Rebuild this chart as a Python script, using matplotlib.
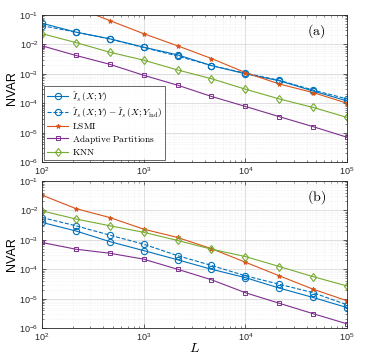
import numpy as np
import matplotlib
matplotlib.use("Agg")
import matplotlib.pyplot as plt
from matplotlib.ticker import LogLocator, NullFormatter

plt.rcParams['mathtext.fontset'] = 'cm'
plt.rcParams['font.family'] = ['Liberation Sans', 'DejaVu Sans']

L = [100, 215, 464, 1000, 2154, 4642, 10000, 21544, 46416, 100000]

# Panel (a)
a_Is = [0.052, 0.026, 0.0154, 0.0080, 0.0044, 0.0019, 0.00100, 0.00058, 0.00026, 0.00012]
a_Isdiff = [0.043, 0.026, 0.0152, 0.0078, 0.0040, 0.0019, 0.00105, 0.00060, 0.00028, 0.00014]
a_lsmi = [0.5, 0.18, 0.064, 0.023, 0.0089, 0.0033, 0.0011, 0.00045, 0.00023, 0.0001]
a_ap = [0.0089, 0.0042, 0.0021, 0.00089, 0.00041, 0.00017, 7.8e-5, 3.5e-5, 1.6e-5, 7e-6]
a_knn = [0.023, 0.0115, 0.0054, 0.0029, 0.00135, 0.00068, 0.0003, 0.00014, 7.2e-5, 3.3e-5]

# Panel (b)
b_Is = [0.0039, 0.0020, 0.00087, 0.00043, 0.00021, 1.0e-4, 5.2e-5, 2.3e-5, 1.1e-5, 5e-6]
b_Isdiff = [0.0057, 0.0030, 0.00144, 0.00071, 0.00029, 0.000135, 6e-5, 3.1e-5, 1.6e-5, 6.2e-6]
b_lsmi = [0.033, 0.0115, 0.0057, 0.0023, 0.0012, 0.0005, 0.000174, 6e-5, 2.1e-5, 8.5e-6]
b_ap = [0.00081, 0.00048, 0.00035, 0.00022, 1.0e-4, 4.4e-5, 1.6e-5, 7e-6, 3.1e-6, 1.4e-6]
b_knn = [0.0096, 0.0051, 0.0030, 0.0018, 0.00095, 0.00048, 0.00027, 0.000124, 5.6e-5, 2.7e-5]

labels = [r'$\hat{I}_s\,(X;Y)$',
          r'$\hat{I}_s\,(X;Y) - \hat{I}_s\,(X;Y_{\mathrm{ind}})$',
          r'$\mathrm{LSMI}$',
          r'$\mathrm{Adaptive\ Partitions}$',
          r'$\mathrm{KNN}$']

blue = '#0072BD'
orange = '#D95319'
purple = '#7E2F8E'
green = '#77AC30'

fig = plt.figure(figsize=(3.68, 3.54), dpi=100)
ax1 = fig.add_axes([0.114, 0.542, 0.829, 0.416])
ax2 = fig.add_axes([0.114, 0.073, 0.829, 0.416])

def draw(ax, Is, Isd, lsmi, ap, knn, tag):
    lw = 0.8
    ax.plot(L, Is, '-', color=blue, marker='o', mfc='none', ms=4.5, lw=lw, mew=0.8, label=labels[0])
    ax.plot(L, Isd, '--', color=blue, marker='o', mfc='none', ms=4.5, lw=lw, mew=0.8, label=labels[1])
    ax.plot(L, lsmi, '-', color=orange, marker='*', ms=3.5, lw=lw, mew=0.6, label=labels[2])
    ax.plot(L, ap, '-', color=purple, marker='s', mfc='none', ms=3.2, lw=lw, mew=0.7, label=labels[3])
    ax.plot(L, knn, '-', color=green, marker='d', mfc='none', ms=4.5, lw=lw, mew=0.8, label=labels[4])
    ax.set_xscale('log')
    ax.set_yscale('log')
    ax.set_xlim(100, 1e5)
    ax.set_ylim(1e-6, 1e-1)
    ax.xaxis.set_minor_locator(LogLocator(base=10, subs=np.arange(2, 10), numticks=20))
    ax.yaxis.set_minor_locator(LogLocator(base=10, subs=np.arange(2, 10), numticks=20))
    ax.xaxis.set_minor_formatter(NullFormatter())
    ax.yaxis.set_minor_formatter(NullFormatter())
    ax.grid(True, which='major', color='#d9d9d9', lw=0.6)
    ax.grid(True, which='minor', color='#e6e6e6', lw=0.4, ls=':')
    ax.set_axisbelow(True)
    ax.tick_params(which='both', direction='in', top=True, right=True, labelsize=6.5,
                   colors='#262626', pad=2.5)
    ax.tick_params(which='major', length=3, width=0.5)
    ax.tick_params(which='minor', length=1.5, width=0.4)
    for s in ax.spines.values():
        s.set_color('#262626')
        s.set_linewidth(0.6)
    ax.set_ylabel('NVAR', fontsize=9, labelpad=1)
    ax.text(0.93, 0.89, tag, transform=ax.transAxes, fontsize=10,
            ha='right', va='center')

draw(ax1, a_Is, a_Isdiff, a_lsmi, a_ap, a_knn, r'$\mathrm{(a)}$')
draw(ax2, b_Is, b_Isdiff, b_lsmi, b_ap, b_knn, r'$\mathrm{(b)}$')
ax2.set_xlabel(r'$L$', fontsize=10)
ax2.xaxis.set_label_coords(0.5, -0.085)

leg = ax1.legend(loc='lower left', fontsize=6.8, frameon=True, fancybox=False,
                 edgecolor='#262626', borderpad=0.3, labelspacing=0.15,
                 handlelength=2.2, handletextpad=0.4, borderaxespad=0.25)
leg.get_frame().set_linewidth(0.6)

fig.savefig('out.png', dpi=100)
